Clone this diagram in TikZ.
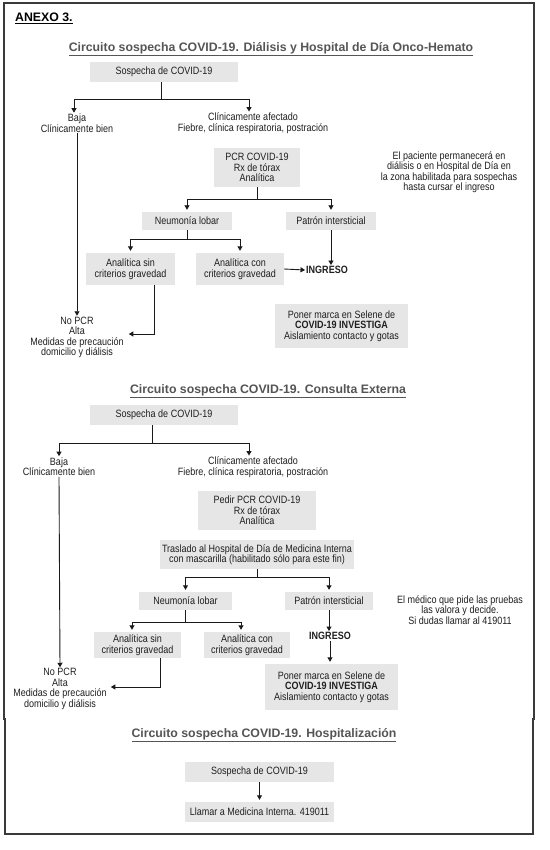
\documentclass[tikz,border=0pt]{standalone}
\usepackage{fontspec}
\setmainfont{Liberation Sans}[FakeStretch=0.85]
\newfontfamily\ttlfont{Liberation Sans}
\usetikzlibrary{arrows.meta}
\definecolor{boxgray}{HTML}{E6E6E6}
\definecolor{txtcol}{HTML}{1F1F1F}
\definecolor{ttlcol}{HTML}{555555}
\definecolor{lncol}{HTML}{1A1A1A}
\definecolor{frmcol}{HTML}{3A3A3A}
\newcommand\myBody{\fontsize{10.6}{10.5}\selectfont}
\newcommand\myTitle{\ttlfont\bfseries\fontsize{12.3}{14}\selectfont}
\tikzset{
  bx/.style={fill=boxgray, align=center, inner sep=0pt, font=\myBody, text=txtcol},
  tx/.style={align=center, inner sep=1pt, font=\myBody, text=txtcol},
  ttl/.style={font=\myTitle, text=ttlcol, inner sep=0pt, anchor=base},
  ln/.style={draw=lncol, line width=0.9pt},
  arr/.style={ln, -{Triangle[length=4.5pt,width=5pt]}},
  arrb/.style={arr, shorten >=2pt},
  frm/.style={draw=frmcol, line width=1.1pt},
}
\begin{document}
\begin{tikzpicture}[x=1pt,y=-1pt]
\useasboundingbox[fill=white] (0,0) rectangle (549,850);
% frame
\draw[frm] (4,720) -- (4,3) -- (534,3) -- (534,720);
\draw[frm] (5,718) -- (5,834) -- (533,834) -- (533,718);

\node[ttl, anchor=base west, text=black] (anexo) at (15,21.5) {\underline{ANEXO 3.}};

% ---------------- Section 1
\node[ttl] (t1) at (271,51.5) {\underline{Circuito sospecha COVID-19. Diálisis y Hospital de Día Onco-Hemato}};
\node[bx, minimum width=148pt, minimum height=20pt] (s1) at (164,72) {Sospecha de COVID-19};
\node[tx] (baja1) at (77,123) {Baja\\Clínicamente bien};
\node[tx] (clin1) at (253,123) {Clínicamente afectado\\Fiebre, clínica respiratoria, postración};
\node[bx, minimum width=86pt, minimum height=39pt] (pcr1) at (257,167.5) {PCR COVID-19\\Rx de tórax\\Analítica};
\node[bx, minimum width=90pt, minimum height=18pt] (neu1) at (187,221) {Neumonía lobar};
\node[bx, minimum width=90pt, minimum height=18pt] (pat1) at (331,221) {Patrón intersticial};
\node[bx, minimum width=89pt, minimum height=32pt] (sin1) at (130.5,269) {Analítica sin\\criterios gravedad};
\node[bx, minimum width=88pt, minimum height=32pt] (con1) at (240,269) {Analítica con\\criterios gravedad};
\node[tx, font=\myBody\bfseries] (ing1) at (327,270) {INGRESO};
\node[tx] (nopcr1) at (77,337.5) {No PCR\\Alta\\Medidas de precaución\\domicilio y diálisis};
\node[bx, minimum width=133pt, minimum height=44pt] (pon1) at (341.5,326) {Poner marca en Selene de\\\textbf{COVID-19 INVESTIGA}\\Aislamiento contacto y gotas};
\node[tx] (pac1) at (449,172) {El paciente permanecerá en\\diálisis o en Hospital de Día en\\la zona habilitada para sospechas\\hasta cursar el ingreso};

\draw[arr] ([xshift=-3pt]s1.south) -- ++(0,17) -| ([xshift=-3pt]baja1.north);
\draw[arr] ([xshift=-3pt]s1.south) -- ++(0,17) -| ([xshift=-4pt]clin1.north);
\draw[arr] (baja1.south) -- (nopcr1.north);
\draw[arrb] (pcr1.south) -- ++(0,12) -| (neu1.north);
\draw[arrb] (pcr1.south) -- ++(0,12) -| (pat1.north);
\draw[arrb] (neu1.south) -- ++(0,9) -| (sin1.north);
\draw[arrb] (neu1.south) -- ++(0,9) -| (con1.north);
\draw[arr] (con1.east) -- (ing1.west);
\draw[arr] (pat1.south) -- (pat1.south |- ing1.north);
\draw[arr] ([xshift=23.5pt]sin1.south) |- ([xshift=4pt,yshift=3.5pt]nopcr1.east);

% ---------------- Section 2
\node[ttl] (t2) at (268,393.5) {\underline{Circuito sospecha COVID-19. Consulta Externa}};
\node[bx, minimum width=148pt, minimum height=20pt] (s2) at (164,415) {Sospecha de COVID-19};
\node[tx] (baja2) at (59,466.5) {Baja\\Clínicamente bien};
\node[tx] (clin2) at (253,467) {Clínicamente afectado\\Fiebre, clínica respiratoria, postración};
\node[bx, minimum width=118pt, minimum height=39pt] (ped2) at (257,510.5) {Pedir PCR COVID-19\\Rx de tórax\\Analítica};
\node[bx, minimum width=194pt, minimum height=29pt] (tras2) at (257,554.5) {Traslado al Hospital de Día de Medicina Interna\\con mascarilla (habilitado sólo para este fin)};
\node[bx, minimum width=93pt, minimum height=18pt] (neu2) at (185.5,601) {Neumonía lobar};
\node[bx, minimum width=88pt, minimum height=18pt] (pat2) at (329,601) {Patrón intersticial};
\node[bx, minimum width=87pt, minimum height=26pt] (sin2) at (137.5,645) {Analítica sin\\criterios gravedad};
\node[bx, minimum width=86pt, minimum height=26pt] (con2) at (247,645) {Analítica con\\criterios gravedad};
\node[tx, font=\myBody\bfseries] (ing2) at (330,636) {INGRESO};
\node[bx, minimum width=133pt, minimum height=46pt] (pon2) at (331.5,687) {Poner marca en Selene de\\\textbf{COVID-19 INVESTIGA}\\Aislamiento contacto y gotas};
\node[tx] (nopcr2) at (60,689) {No PCR\\Alta\\Medidas de precaución\\domicilio y diálisis};
\node[tx] (med2) at (460,610) {El médico que pide las pruebas\\las valora y decide.\\Si dudas llamar al 419011};

\draw[arr] ([xshift=-12pt]s2.south) -- ++(0,18) -| (baja2.north);
\draw[arr] ([xshift=-12pt]s2.south) -- ++(0,18) -| ([xshift=-4pt]clin2.north);
\draw[arr] (baja2.south) -- (nopcr2.north);
\draw[arrb] (tras2.south) -- ++(0,8) -| (neu2.north);
\draw[arrb] (tras2.south) -- ++(0,8) -| (pat2.north);
\draw[arrb] (neu2.south) -- ++(0,12) -| ([xshift=-5.5pt]sin2.north);
\draw[arrb] (neu2.south) -- ++(0,12) -| ([xshift=-6pt]con2.north);
\draw[arr] (pat2.south) -- (pat2.south |- ing2.north);
\draw[arrb] (ing2.south) -- (ing2.south |- pon2.north);
\draw[arr] ([xshift=22.5pt]sin2.south) |- ([xshift=3pt,yshift=2pt]nopcr2.east);

% ---------------- Section 3
\node[ttl] (t3) at (264,737.5) {\underline{Circuito sospecha COVID-19. Hospitalización}};
\node[bx, minimum width=149pt, minimum height=20pt] (s3) at (259.5,772) {Sospecha de COVID-19};
\node[bx, minimum width=149pt, minimum height=20pt] (ll3) at (259.5,812) {Llamar a Medicina Interna. 419011};
\draw[arrb] (s3.south) -- (ll3.north);
\end{tikzpicture}
\end{document}
